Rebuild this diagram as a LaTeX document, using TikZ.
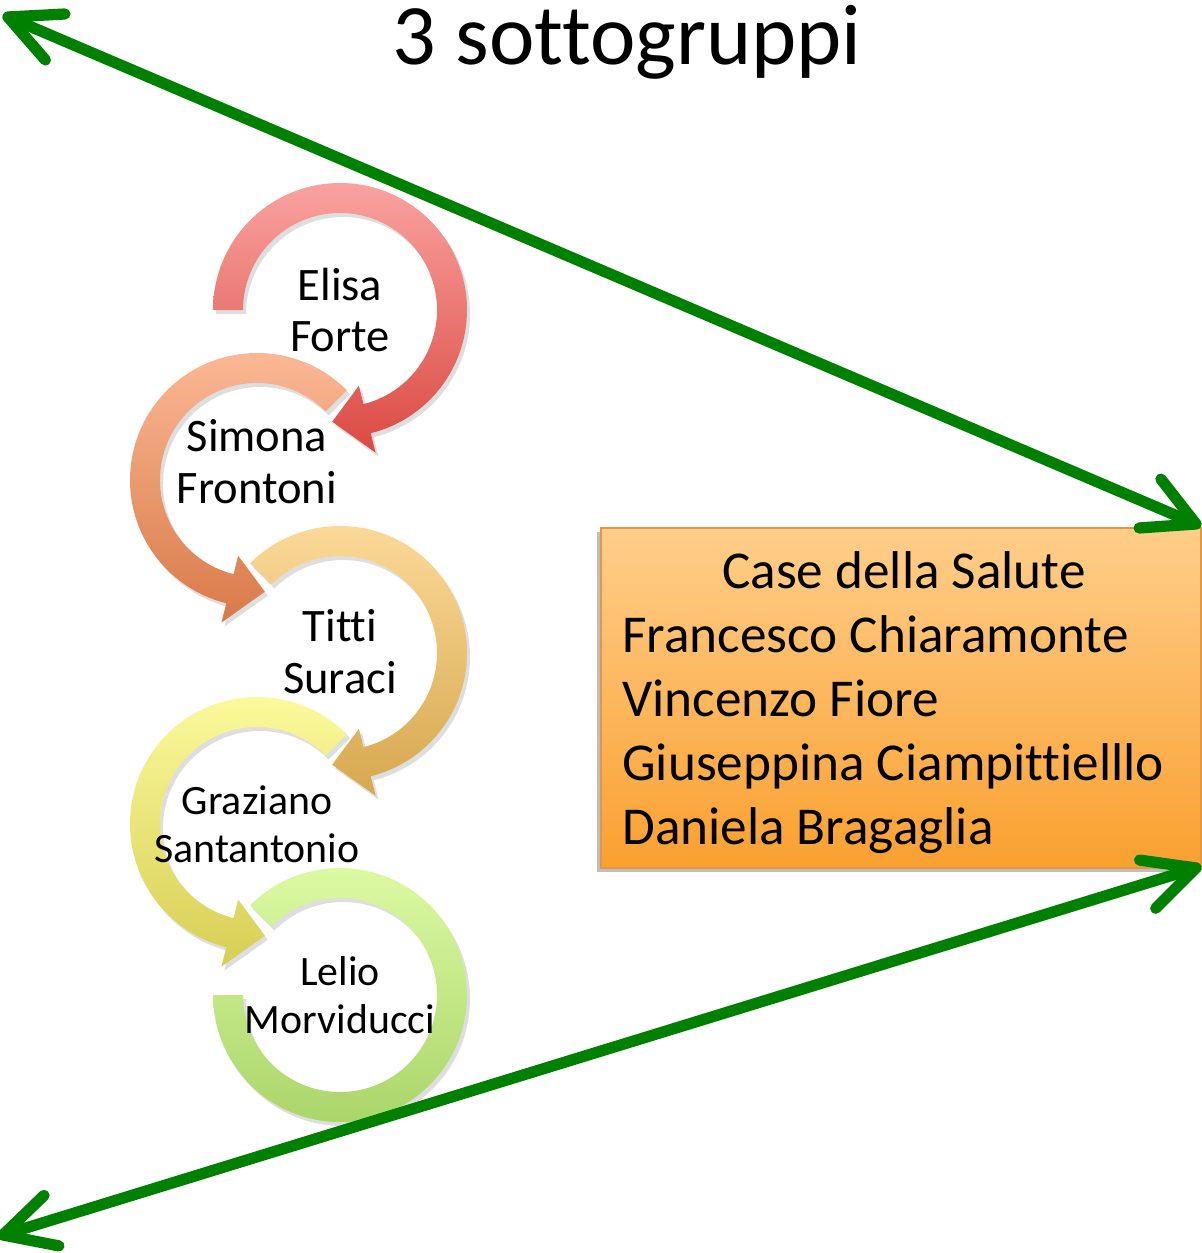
\documentclass[tikz,border=0pt]{standalone}
\usepackage{fontspec}
\setmainfont{Carlito}[Ligatures=NoCommon]
\usetikzlibrary{calc,arrows.meta}
\definecolor{gline}{RGB}{0,128,0}
\definecolor{c1t}{RGB}{250,162,160}\definecolor{c1b}{RGB}{218,74,66}
\definecolor{c2t}{RGB}{253,186,152}\definecolor{c2b}{RGB}{216,122,72}
\definecolor{c3t}{RGB}{253,219,155}\definecolor{c3b}{RGB}{214,168,78}
\definecolor{c4t}{RGB}{253,251,158}\definecolor{c4b}{RGB}{214,206,84}
\definecolor{c5t}{RGB}{222,251,165}\definecolor{c5b}{RGB}{168,212,104}
\definecolor{boxt}{RGB}{255,206,138}\definecolor{boxb}{RGB}{250,160,48}
\definecolor{boxedge}{RGB}{226,150,70}
\tikzset{
  garrow/.style={draw=gline, line width=6.4pt, line cap=round, line join=round},
  bigtext/.style={font=\fontsize{26.5pt}{29.5pt}\selectfont, align=center, inner sep=0pt},
  smalltext/.style={font=\fontsize{23.8pt}{27.2pt}\selectfont, align=center, inner sep=0pt},
  boxline/.style={font=\fontsize{30.3pt}{36pt}\selectfont, inner sep=0pt, anchor=base west},
  arrowshadow/.style={fill=black, opacity=0.13},
}
% clockwise-on-screen arrow (increasing angle): cx, cy, start, base, tip, top colour, bottom colour
\newcommand{\ringarrow}[7]{%
  \fill[arrowshadow] ($(#1,#2)+(3,4)+(#3:127)$) arc[start angle=#3,end angle=#4,radius=127]
    -- ($(#1,#2)+(3,4)+(#4:147)$) -- ($(#1,#2)+(3,4)+(#5:112)$) -- ($(#1,#2)+(3,4)+(#4:78)$)
    -- ($(#1,#2)+(3,4)+(#4:97)$) arc[start angle=#4,end angle=#3,radius=97] -- cycle;
  \shade[top color=#6, bottom color=#7] ($(#1,#2)+(#3:127)$) arc[start angle=#3,end angle=#4,radius=127]
    -- ($(#1,#2)+(#4:147)$) -- ($(#1,#2)+(#5:112)$) -- ($(#1,#2)+(#4:78)$)
    -- ($(#1,#2)+(#4:97)$) arc[start angle=#4,end angle=#3,radius=97] -- cycle;
}
\begin{document}
\begin{tikzpicture}[x=0.02cm,y=-0.02cm]
\useasboundingbox (0,0) rectangle (1201,1253);

% title
\node[font=\fontsize{49pt}{60pt}\selectfont, anchor=base, inner sep=0pt] (title) at (627,65) {3 sottogruppi};

% circular arrows
\ringarrow{340}{310}{180}{436}{454}{c1t}{c1b}
\ringarrow{257}{480}{315}{104}{86}{c2t}{c2b}
\ringarrow{340}{653}{225}{436}{454}{c3t}{c3b}
\ringarrow{257}{824}{315}{104}{86}{c4t}{c4b}
% last ring, no head
\fill[arrowshadow] ($(340,995)+(3,4)+(225:127)$) arc[start angle=225,end angle=540,radius=127]
  -- ($(340,995)+(3,4)+(540:97)$) arc[start angle=540,end angle=225,radius=97] -- cycle;
\shade[top color=c5t, bottom color=c5b] ($(340,995)+(225:127)$) arc[start angle=225,end angle=540,radius=127]
  -- ($(340,995)+(540:97)$) arc[start angle=540,end angle=225,radius=97] -- cycle;

% names
\node[bigtext] (elisa) at (340,310) {Elisa\\Forte};
\node[bigtext] (simona) at (257,462) {Simona\\Frontoni};
\node[bigtext] (titti) at (340,652) {Titti\\Suraci};
\node[smalltext] (graziano) at (257,824) {Graziano\\Santantonio};
\node[smalltext] (lelio) at (340,995) {Lelio\\Morviducci};

% box
\fill[black, opacity=0.25] (597,532) rectangle (1198,872);
\shade[top color=boxt, bottom color=boxb, draw=boxedge, line width=0.6pt] (601,528) rectangle (1201,868);
\coordinate (box) at (901,698);
\node[font=\fontsize{30.3pt}{36pt}\selectfont, anchor=base, inner sep=0pt] (case) at (904,588) {Case della Salute};
\node[boxline] (fc) at (622,652) {Francesco Chiaramonte};
\node[boxline] (vf) at (622,716) {Vincenzo Fiore};
\node[boxline] (gc) at (622,780) {Giuseppina Ciampittielllo};
\node[boxline] (db) at (622,844) {Daniela Bragaglia};

% green double arrows (open V heads)
\coordinate (a1) at (8,17);
\coordinate (a2) at (1196,524);
\coordinate (b1) at (3,1235);
\coordinate (b2) at (1196,868);
\draw[garrow] (a1) -- (a2);
\draw[garrow] (b1) -- (b2);
\draw[garrow] ($(a1)+(-3:57)$) -- (a1) -- ($(a1)+(49:57)$);
\draw[garrow] ($(a2)+(176:57)$) -- (a2) -- ($(a2)+(232:57)$);
\draw[garrow] ($(b1)+(-44:57)$) -- (b1) -- ($(b1)+(11:57)$);
\draw[garrow] ($(b2)+(188:57)$) -- (b2) -- ($(b2)+(135:57)$);
\end{tikzpicture}
\end{document}
